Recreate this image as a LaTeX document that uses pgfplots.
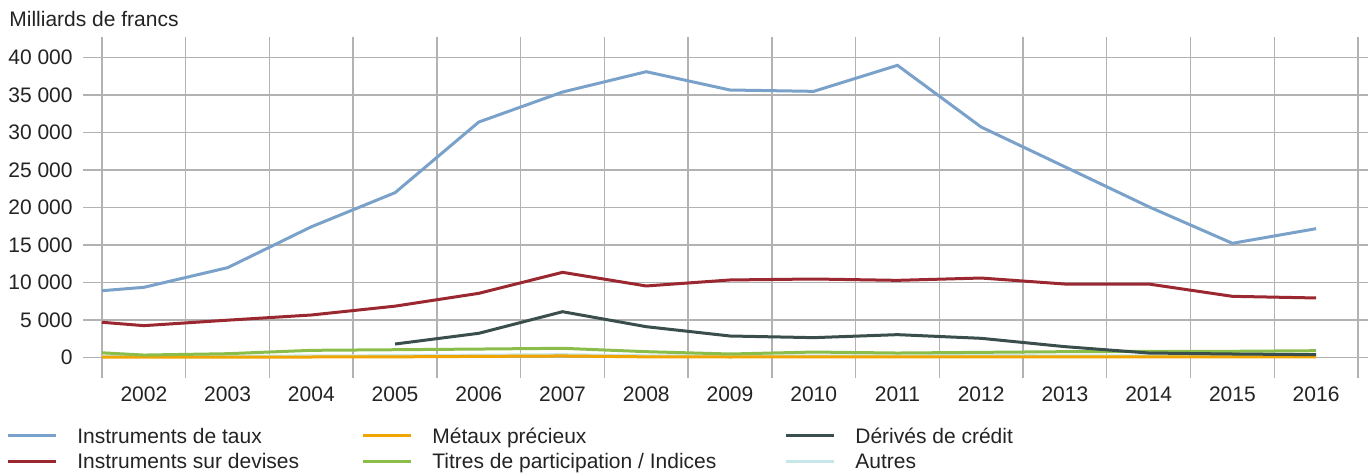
\documentclass[border=0pt]{standalone}
\usepackage{fontspec}
\setmainfont{Liberation Sans}
\usepackage{pgfplots}
\pgfplotsset{compat=1.18}
\definecolor{ctaux}{RGB}{122,161,201}
\definecolor{cdev}{RGB}{155,40,48}
\definecolor{cmet}{RGB}{240,165,0}
\definecolor{cder}{RGB}{58,78,76}
\definecolor{ctit}{RGB}{139,189,75}
\definecolor{caut}{RGB}{198,230,232}
\definecolor{ctxt}{RGB}{35,35,35}
\begin{document}
\fontsize{10.5bp}{12.6bp}\selectfont
\begin{tikzpicture}
\begin{axis}[
  at={(0,0)}, anchor=south west,
  scale only axis, width=642.5bp, height=170.35bp,
  xmin=2001.273, xmax=2016.62,
  ymin=-2760, ymax=42667,
  scaled y ticks=false, scaled x ticks=false,
  axis line style={draw=none},
  xtick={2002,2003,2004,2005,2006,2007,2008,2009,2010,2011,2012,2013,2014,2015,2016},
  xticklabels={2002,2003,2004,2005,2006,2007,2008,2009,2010,2011,2012,2013,2014,2015,2016},
  minor xtick={2001.5,2002.5,2003.5,2004.5,2005.5,2006.5,2007.5,2008.5,2009.5,2010.5,2011.5,2012.5,2013.5,2014.5,2015.5,2016.5},
  ytick={0,5000,10000,15000,20000,25000,30000,35000,40000},
  yticklabels={0,5 000,10 000,15 000,20 000,25 000,30 000,35 000,40 000},
  xminorgrids, ymajorgrids, xmajorgrids=false,
  major tick length=0pt, minor tick length=0pt,
  grid style={black!30, line width=0.7bp},
  minor grid style={black!30, line width=0.7bp},
  tick label style={font=\fontsize{10.5bp}{12.6bp}\selectfont, text=ctxt},
  yticklabel style={anchor=east, inner sep=0pt, xshift=-5bp},
  xticklabel style={anchor=north, inner sep=0pt, yshift=-4bp},
  legend columns=3,
  legend cell align=left,
  legend image code/.code={\draw[#1] (0bp,0bp) -- (24bp,0bp);},
  legend style={at={(0,0)}, anchor=north west, xshift=-38.5bp, yshift=-23.5bp,
    draw=none, fill=none, inner sep=0pt, row sep=2.5bp, column sep=0pt,
    font=\fontsize{10.5bp}{12.6bp}\selectfont, text=ctxt,
    nodes={inner sep=0pt},
    /tikz/every odd column/.append style={column sep=10bp}},
]
\addplot[caut, line width=1.5bp, forget plot] coordinates {(2001.5,150)(2002,120)(2003,150)(2004,180)(2005,220)(2006,280)(2007,350)(2008,200)(2009,180)(2010,200)(2011,200)(2012,220)(2013,200)(2014,180)(2015,150)(2016,150)};
\addplot[cmet, line width=1.5bp, forget plot] coordinates {(2001.5,30)(2002,20)(2003,20)(2004,40)(2005,60)(2006,120)(2007,180)(2008,60)(2009,40)(2010,50)(2011,50)(2012,50)(2013,50)(2014,50)(2015,50)(2016,50)};
\addplot[ctit, line width=1.5bp, forget plot] coordinates {(2001.5,600)(2002,300)(2003,480)(2004,930)(2005,1010)(2006,1100)(2007,1200)(2008,750)(2009,440)(2010,700)(2011,570)(2012,660)(2013,750)(2014,800)(2015,800)(2016,880)};
\addplot[cder, line width=1.5bp, forget plot] coordinates {(2005,1770)(2006,3200)(2007,6080)(2008,4080)(2009,2840)(2010,2620)(2011,3020)(2012,2530)(2013,1420)(2014,570)(2015,440)(2016,350)};
\addplot[cdev, line width=1.5bp, forget plot] coordinates {(2001.5,4670)(2002,4220)(2003,4950)(2004,5640)(2005,6820)(2006,8530)(2007,11330)(2008,9510)(2009,10310)(2010,10440)(2011,10260)(2012,10570)(2013,9770)(2014,9770)(2015,8130)(2016,7910)};
\addplot[ctaux, line width=1.5bp, forget plot] coordinates {(2001.5,8880)(2002,9330)(2003,11950)(2004,17400)(2005,21950)(2006,31370)(2007,35370)(2008,38080)(2009,35640)(2010,35460)(2011,38930)(2012,30700)(2013,25400)(2014,20080)(2015,15200)(2016,17150)};
\addlegendimage{ctaux, line width=1.5bp}
\addlegendentry{\makebox[142bp][l]{\strut Instruments de taux}}
\addlegendimage{cmet, line width=1.5bp}
\addlegendentry{\makebox[176bp][l]{\strut Métaux précieux}}
\addlegendimage{cder, line width=1.5bp}
\addlegendentry{\strut Dérivés de crédit}
\addlegendimage{cdev, line width=1.5bp}
\addlegendentry{\makebox[142bp][l]{\strut Instruments sur devises}}
\addlegendimage{ctit, line width=1.5bp}
\addlegendentry{\makebox[176bp][l]{\strut Titres de participation / Indices}}
\addlegendimage{caut, line width=1.5bp}
\addlegendentry{\strut Autres}
\end{axis}
\node[anchor=base west, inner sep=0pt, text=ctxt] at (-37bp,175.5bp) {Milliards de francs};
\pgfresetboundingbox
\path[use as bounding box] (-41.5bp,-48bp) rectangle (642.5bp,189bp);
\end{tikzpicture}
\end{document}
